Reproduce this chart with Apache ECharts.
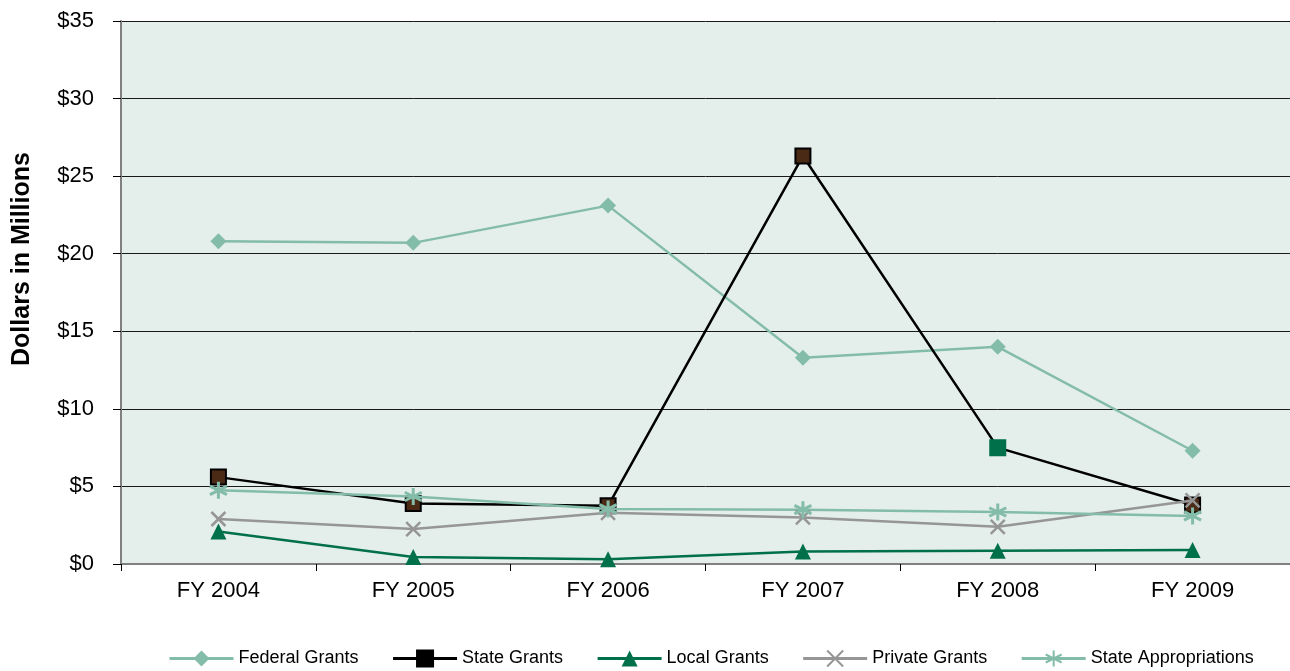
<!DOCTYPE html>
<html>
<head>
<meta charset="utf-8">
<script src="https://cdn.jsdelivr.net/npm/echarts@6/dist/echarts.min.js"></script>
<style>
html,body{margin:0;padding:0;background:#fff;}
#chart{width:1290px;height:671px;}
</style>
</head>
<body>
<div id="chart"></div>
<script>
const categories = ['FY 2004','FY 2005','FY 2006','FY 2007','FY 2008','FY 2009'];
const federalGrants = [20.8, 20.7, 23.1, 13.3, 14.0, 7.3];
const stateGrants = [5.6, 3.9, 3.75, 26.3, 7.5, 3.8];
const localGrants = [2.1, 0.45, 0.3, 0.8, 0.85, 0.9];
const privateGrants = [2.9, 2.25, 3.3, 3.0, 2.4, 4.1];
const stateAppropriations = [4.75, 4.35, 3.55, 3.5, 3.35, 3.1];
const yTicks = [0, 5, 10, 15, 20, 25, 30, 35];

const FONT = '"Liberation Sans", Arial, sans-serif';
const chart = echarts.init(document.getElementById('chart'), null, {renderer:'canvas'});

const crossPath = 'path://M0,0L10,10M10,0L0,10';
const starPath = 'path://M5,0L5,10M0.7,2.5L9.3,7.5M0.7,7.5L9.3,2.5';

const stateData = stateGrants.map((v, i) => i === 4
  ? {value: v, itemStyle: {color: '#00704A', borderColor: '#00704A'}}
  : v);

chart.setOption({
  animation: false,
  textStyle: {fontFamily: FONT},
  grid: {left: 121, right: 0, top: 21, bottom: 107, show: true, backgroundColor: '#E4EEEA', borderWidth: 0},
  graphic: [{
    type: 'text', rotation: Math.PI / 2, x: 22, y: 259,
    style: {text: 'Dollars in Millions', font: 'bold 25px ' + FONT, fill: '#000', align: 'center', verticalAlign: 'middle'}
  }],
  legend: {
    left: 163, top: 643, itemWidth: 64, itemHeight: 20, itemGap: 33,
    textStyle: {fontSize: 18, color: '#000', fontFamily: FONT},
    lineStyle: {width: 3},
    data: [
      {name: 'Federal Grants'},
      {name: 'State Grants', itemStyle: {color: '#000', borderColor: '#000'}},
      {name: 'Local Grants'},
      {name: 'Private Grants'},
      {name: 'State Appropriations'}
    ]
  },
  xAxis: {
    type: 'category', data: categories, boundaryGap: true,
    axisLine: {lineStyle: {color: '#808080', width: 2}},
    axisTick: {show: true, length: 7, lineStyle: {color: '#000', width: 1}},
    axisLabel: {fontSize: 22, color: '#000', margin: 16, fontFamily: FONT}
  },
  yAxis: {
    type: 'value', min: 0, max: 35, interval: 5,
    axisLine: {show: true, lineStyle: {color: '#808080', width: 2}},
    axisTick: {show: true, length: 8, lineStyle: {color: '#000', width: 1}},
    axisLabel: {fontSize: 22, color: '#000', margin: 27, fontFamily: FONT,
      formatter: v => yTicks.includes(v) ? '$' + v : ''},
    splitLine: {show: true, lineStyle: {color: '#1a1a1a', width: 1}}
  },
  series: [
    {name: 'Federal Grants', type: 'line', data: federalGrants, symbol: 'diamond', symbolSize: 16,
      lineStyle: {color: '#84BCAA', width: 2.5}, itemStyle: {color: '#84BCAA'}, z: 3},
    {name: 'State Grants', type: 'line', data: stateData, symbol: 'rect', symbolSize: 15,
      lineStyle: {color: '#000', width: 2.5}, itemStyle: {color: '#4A2A15', borderColor: '#000', borderWidth: 2}, z: 4},
    {name: 'Local Grants', type: 'line', data: localGrants, symbol: 'triangle', symbolSize: 16,
      lineStyle: {color: '#00704A', width: 2.5}, itemStyle: {color: '#00704A'}, z: 3},
    {name: 'Private Grants', type: 'line', data: privateGrants, symbol: crossPath, symbolSize: 14,
      lineStyle: {color: '#969696', width: 2.5}, itemStyle: {color: 'none', borderColor: '#969696', borderWidth: 2.5}, z: 5},
    {name: 'State Appropriations', type: 'line', data: stateAppropriations, symbol: starPath, symbolSize: 17,
      lineStyle: {color: '#84BCAA', width: 2.5}, itemStyle: {color: 'none', borderColor: '#84BCAA', borderWidth: 3}, z: 5}
  ]
});
</script>
</body>
</html>
